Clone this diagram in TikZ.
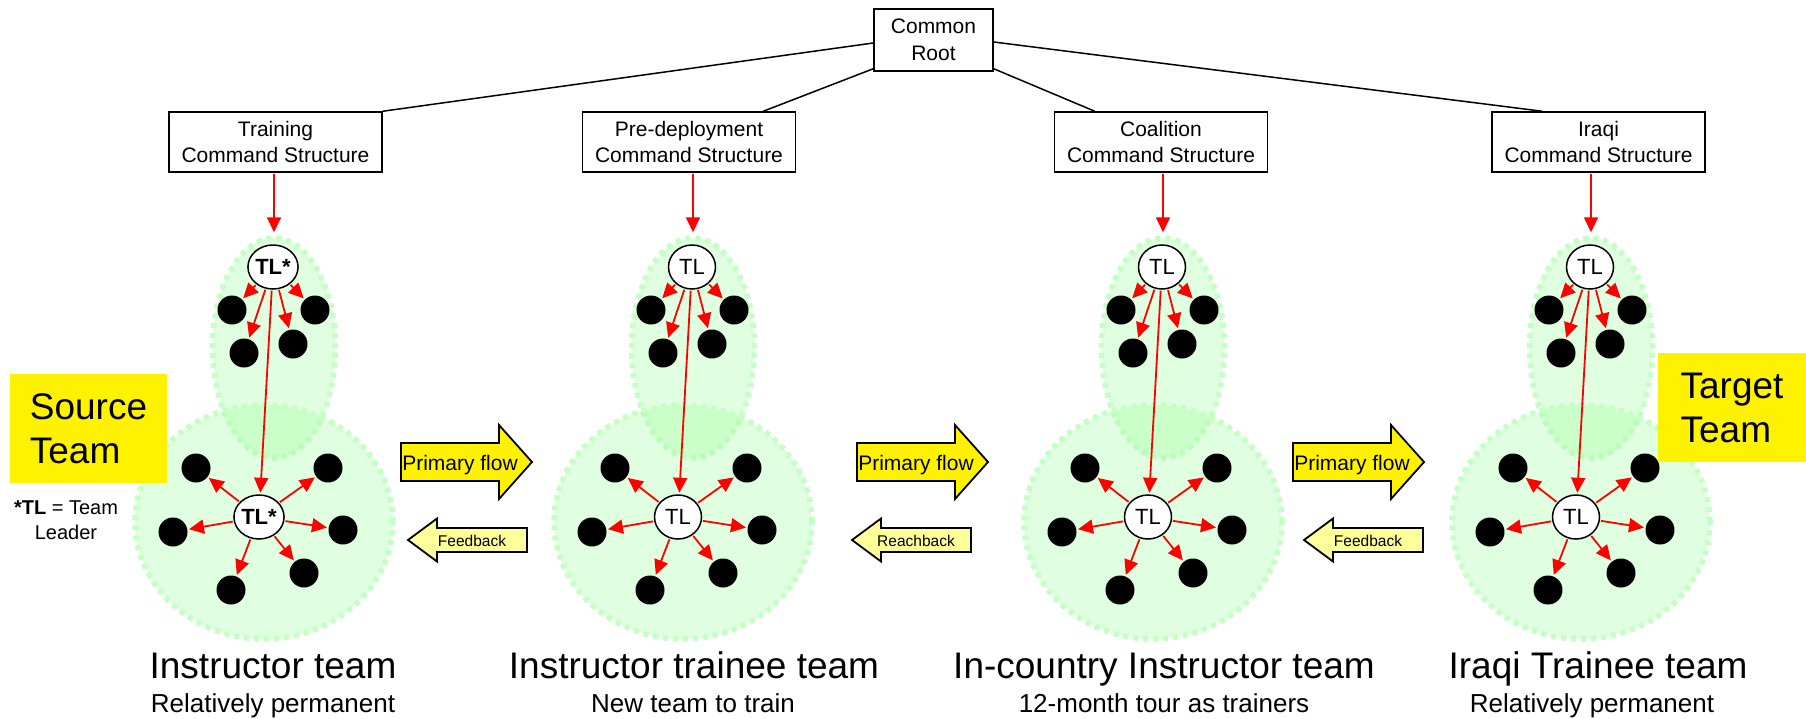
\documentclass[tikz,border=0pt]{standalone}
\usepackage{fontspec}
\setmainfont{Liberation Sans}
\usetikzlibrary{arrows.meta,shapes.geometric}

\definecolor{zonefill}{RGB}{153,255,153}
\definecolor{zoneedge}{RGB}{196,255,196}
\definecolor{paleyellow}{RGB}{255,255,153}
\definecolor{hotred}{RGB}{255,0,0}

\newcommand{\fs}[2]{\fontsize{#1}{#2}\selectfont}

\tikzset{
  cmdbox/.style={draw=black, line width=1.5pt, fill=white, minimum width=213pt,
    minimum height=60pt, inner sep=0pt, align=center, font=\fs{21}{26}},
  rootbox/.style={cmdbox, minimum width=119pt, minimum height=62pt, font=\fs{21}{26.5}},
  treeline/.style={draw=black, line width=1.5pt},
  zone/.style={draw=zoneedge, line width=5.5pt, dash pattern=on 5pt off 5pt,
    fill=zonefill, fill opacity=0.3, inner sep=0pt, ellipse},
  topzone/.style={zone, minimum width=123pt, minimum height=220pt},
  basezone/.style={zone, minimum width=258pt, minimum height=234pt},
  leader/.style={ellipse, draw=black, line width=1.5pt, fill=white,
    minimum width=47pt, minimum height=44pt, inner sep=0pt, font=\fs{22}{26}},
  member/.style={circle, fill=black, minimum size=29pt, inner sep=0pt},
  redarrow/.style={draw=hotred, line width=1.8pt,
    -{Triangle[length=15pt,width=14pt]}, shorten <=1pt, shorten >=1.5pt},
  flowshape/.style={draw=black, line width=1.8pt, fill=yellow, line join=miter},
  backshape/.style={flowshape, fill=paleyellow},
  flowtext/.style={font=\fs{21}{24}, inner sep=0pt, anchor=base},
  backtext/.style={font=\fs{15.5}{18}, inner sep=0pt, anchor=base},
  teamlabel/.style={font=\fs{37}{40}, inner sep=0pt, anchor=base},
  teamnote/.style={font=\fs{26}{30}, inner sep=0pt, anchor=base},
  tagbox/.style={fill=yellow, inner sep=0pt, align=left, font=\fs{37}{44}},
}

% One team: an upper zone with its leader and four members,
% a lower zone with a leader and six members.
% #1 name prefix, #2 x of the upper leader, #3 leader text
\newcommand{\teamcluster}[3]{%
  \node[topzone] (#1-top) at ({#2+1},348) {};
  \node[basezone] (#1-base) at ({#2-9},522) {};
  \node[leader] (#1-tl1) at (#2,267) {#3};
  \node[leader] (#1-tl2) at ({#2-14},517) {#3};
  \foreach \n/\dx/\dy in {a/-41/43, b/42/43, c/-29/86, d/20/77} {
    \node[member] (#1-u\n) at ({#2+(\dx)},{267+(\dy)}) {};
    \draw[redarrow] (#1-tl1) -- (#1-u\n);
  }
  \foreach \n/\dx/\dy in {a/-63/-49, b/69/-49, c/-86/15, d/84/13, e/-28/73, f/45/56} {
    \node[member] (#1-l\n) at ({#2-14+(\dx)},{517+(\dy)}) {};
    \draw[redarrow] (#1-tl2) -- (#1-l\n);
  }
  \draw[redarrow] (#1-tl1) -- (#1-tl2);
}

% Wide yellow arrow pointing right; #1 left x, #2 node name, #3 text
\newcommand{\flowarrow}[3]{%
  \path[flowshape] (#1,443) -- ({#1+98},443) -- ({#1+98},425) -- ({#1+131},462)
    -- ({#1+98},499) -- ({#1+98},481) -- (#1,481) -- cycle;
  \node[flowtext] (#2) at ({#1+59},470) {#3};
}

% Small pale arrow pointing left; #1 tip x, #2 node name, #3 text
\newcommand{\backarrow}[3]{%
  \path[backshape] (#1,540) -- ({#1+29},518.5) -- ({#1+29},528) -- ({#1+119},528)
    -- ({#1+119},552) -- ({#1+29},552) -- ({#1+29},561.5) -- cycle;
  \node[backtext] (#2) at ({#1+64},546) {#3};
}

\begin{document}
\begin{tikzpicture}[x=1pt, y=-1pt]
  \fill[white] (0,0) rectangle (1806,718);
  \useasboundingbox (0,0) rectangle (1806,718);

  % command hierarchy
  \node[rootbox] (root) at (933.5,40) {Common\\Root};
  \node[cmdbox] (train) at (275.5,142) {Training\\Command Structure};
  \node[cmdbox] (pre)   at (689,142)   {Pre-deployment\\Command Structure};
  \node[cmdbox] (coal)  at (1161,142)  {Coalition\\Command Structure};
  \node[cmdbox] (iraq)  at (1598.5,142) {Iraqi\\Command Structure};

  \draw[treeline] ([yshift=-3pt]root.west) -- (train.north east);
  \draw[treeline] ([yshift=3pt]root.south west) -- ([xshift=-33pt]pre.north east);
  \draw[treeline] ([yshift=3pt]root.south east) -- ([xshift=41pt]coal.north west);
  \draw[treeline] ([yshift=-2pt]root.east) -- ([xshift=51pt]iraq.north west);

  % the four teams
  \teamcluster{ca}{273}{\bfseries TL*}
  \teamcluster{cb}{692}{TL}
  \teamcluster{cc}{1162}{TL}
  \teamcluster{cd}{1590}{TL}

  \draw[redarrow, shorten >=3pt] (train.south -| ca-top.north) -- (ca-top.north);
  \draw[redarrow, shorten >=3pt] (pre.south -| cb-top.north) -- (cb-top.north);
  \draw[redarrow, shorten >=3pt] (coal.south -| cc-top.north) -- (cc-top.north);
  \draw[redarrow, shorten >=3pt] (iraq.south -| cd-top.north) -- (cd-top.north);

  % flows between teams
  \flowarrow{401}{fa}{Primary flow}
  \flowarrow{857}{fb}{Primary flow}
  \flowarrow{1293}{fc}{Primary flow}
  \backarrow{408}{ba}{Feedback}
  \backarrow{852}{bb}{Reachback}
  \backarrow{1304}{bc}{Feedback}

  % tags and key
  \node[tagbox, minimum width=157pt, minimum height=109pt] (src) at (88.5,428.5) {Source\\Team};
  \node[tagbox, minimum width=148pt, minimum height=109pt] (tgt) at (1732,407.5) {Target\\Team};
  \node[font=\fs{20}{25}, align=center, inner sep=0pt] (key) at (66,520) {{\bfseries *TL} = Team\\Leader};

  % team captions
  \node[teamlabel] (na) at (273,678)  {Instructor team};
  \node[teamnote]  (sa) at (273,712)  {Relatively permanent};
  \node[teamlabel] (nb) at (694,678)  {Instructor trainee team};
  \node[teamnote]  (sb) at (693,712)  {New team to train};
  \node[teamlabel] (nc) at (1164,678) {In-country Instructor team};
  \node[teamnote]  (sc) at (1164,712) {12-month tour as trainers};
  \node[teamlabel] (nd) at (1598,678) {Iraqi Trainee team};
  \node[teamnote]  (sd) at (1592,712) {Relatively permanent};
\end{tikzpicture}
\end{document}
